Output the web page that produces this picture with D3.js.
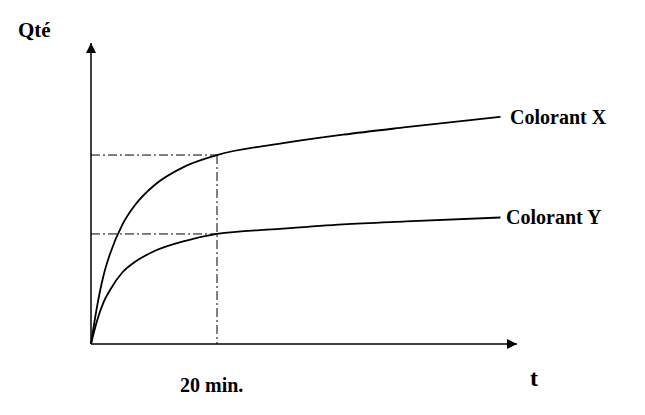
<!DOCTYPE html>
<html><head><meta charset="utf-8">
<script src="https://cdn.jsdelivr.net/npm/d3@7"></script>
<style>body{margin:0;background:#fff}</style>
</head><body><svg id="c" width="645" height="415"></svg>
<script>
// time in minutes, quantity in arbitrary units
var times = [0, 1, 2, 3, 5, 7, 10, 15, 20, 30, 40, 50, 65];
var qtyX = [0, 13, 23, 30, 40, 46.5, 53, 59.5, 63.2, 67, 70, 72.5, 76];
var qtyY = [0, 8, 14, 18, 24, 27.5, 31, 34.5, 36.8, 38.5, 40, 41, 42.3];
var markTime = 20;

var svg = d3.select('#c');
var x = d3.scaleLinear().domain([0, 20]).range([91, 217]);
var y = d3.scaleLinear().domain([0, 100]).range([344, 45]);

svg.append('defs').append('marker').attr('id', 'ar')
    .attr('viewBox', '0 0 10 10').attr('refX', 10).attr('refY', 5)
    .attr('markerWidth', 10).attr('markerHeight', 10).attr('markerUnits', 'userSpaceOnUse')
    .attr('orient', 'auto')
    .append('path').attr('d', 'M0,0L10,5L0,10z').attr('fill', '#000');

svg.append('line').attr('x1', 91).attr('y1', 344).attr('x2', 91).attr('y2', 43)
    .attr('stroke', '#000').attr('stroke-width', 1.5).attr('marker-end', 'url(#ar)');
svg.append('line').attr('x1', 91).attr('y1', 344).attr('x2', 517).attr('y2', 344)
    .attr('stroke', '#000').attr('stroke-width', 1.5).attr('marker-end', 'url(#ar)');

var qx20 = qtyX[times.indexOf(markTime)], qy20 = qtyY[times.indexOf(markTime)];
var dash = '9,3,2,3';
[[x(0), y(qx20), x(markTime), y(qx20)], [x(0), y(qy20), x(markTime), y(qy20)],
 [x(markTime), y(qx20), x(markTime), y(0)]].forEach(function (d) {
    svg.append('line').attr('x1', d[0]).attr('y1', d[1]).attr('x2', d[2]).attr('y2', d[3])
        .attr('stroke', '#000').attr('stroke-width', 1).attr('stroke-dasharray', dash);
});

var line = d3.line().x(function (d) { return x(d[0]); }).y(function (d) { return y(d[1]); })
    .curve(d3.curveMonotoneX);
[qtyX, qtyY].forEach(function (s) {
    svg.append('path').attr('d', line(times.map(function (t, i) { return [t, s[i]]; })))
        .attr('fill', 'none').attr('stroke', '#000').attr('stroke-width', 1.8);
});

function label(t, px, py, size) {
    svg.append('text').attr('x', px).attr('y', py).attr('font-size', size)
        .attr('font-family', "'Liberation Serif', 'Times New Roman', 'DejaVu Serif', serif")
        .attr('font-weight', 'bold').text(t);
}
label('Qté', 18, 37, 21);
label('t', 530, 386, 24);
label('20 min.', 180, 392, 20);
label('Colorant X', 510, 124, 20);
label('Colorant Y', 506, 224, 20);
</script></body></html>
